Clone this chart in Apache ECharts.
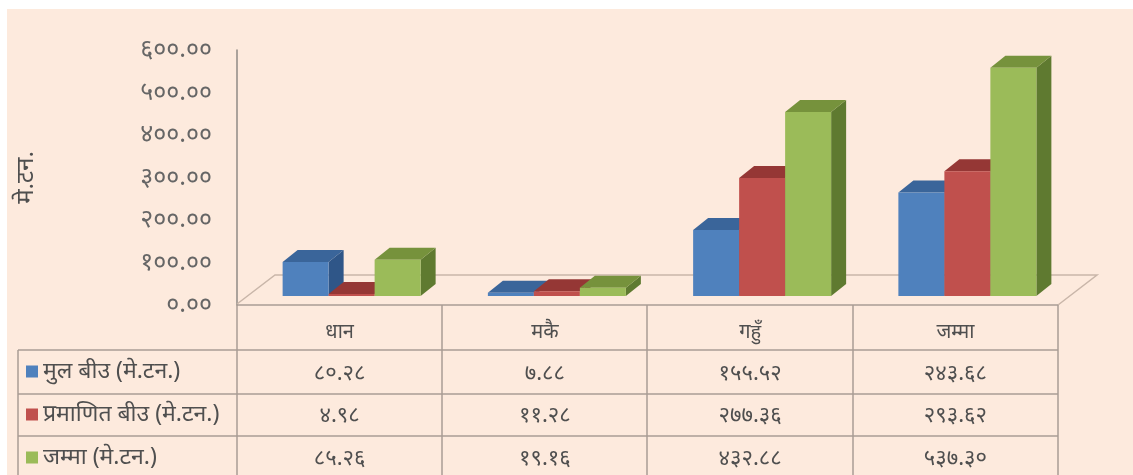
<!DOCTYPE html>
<html><head><meta charset="utf-8">
<style>html,body{margin:0;padding:0;background:#fff;overflow:hidden}#c{width:1133px;height:475px}</style>
<script src="https://cdn.jsdelivr.net/npm/echarts@6/dist/echarts.min.js"></script>
</head><body><div id="c"></div>
<script>
var categories = ['धान','मकै','गहुँ','जम्मा'];
var seriesNames = ['मुल बीउ (मे.टन.)','प्रमाणित बीउ (मे.टन.)','जम्मा (मे.टन.)'];
var mulBeej = [80.28, 7.88, 155.52, 243.68];
var pramanit = [4.98, 11.28, 277.36, 293.62];
var jamma = [85.26, 19.16, 432.88, 537.30];
var faceColors = ['#4F81BD','#C0504D','#9BBB59'];
var topColors = ['#3A659A','#953735','#76923C'];
var sideColors = ['#2F5688','#7F2E2C','#5F7A30'];
var rowCentres = [374,416,459];
var text = '#4f4f4f';
var fontFamily = '"Noto Sans","DejaVu Sans",sans-serif';

var nepali = '०१२३४५६७८९';
function toNepali(s){ return String(s).replace(/[0-9]/g,function(d){return nepali[+d];}); }

var BAR_W = 46, DX = 15, DY = 12, FLOOR = 9, SHIFT = 12;

function bar(idx){
  return function(params, api){
    var i = api.value(0), v = api.value(1);
    var c = api.coord([i, v]), b = api.coord([i, 0]);
    var x = c[0] + SHIFT + (idx-1.5)*BAR_W, x2 = x + BAR_W;
    var top = c[1] - FLOOR, base = b[1] - FLOOR;
    return {type:'group', children:[
      {type:'polygon', shape:{points:[[x2,top],[x2+DX,top-DY],[x2+DX,base-DY],[x2,base]]}, style:{fill:sideColors[idx]}},
      {type:'polygon', shape:{points:[[x,top],[x+DX,top-DY],[x2+DX,top-DY],[x2,top]]}, style:{fill:topColors[idx]}},
      {type:'rect', shape:{x:x,y:top,width:BAR_W,height:base-top}, style:{fill:faceColors[idx]}},
      {type:'text', style:{x:c[0], y:rowCentres[idx], text:toNepali(v.toFixed(2)), fill:text, font:'22px '+fontFamily, align:'center', verticalAlign:'middle'}}
    ]};
  };
}
function mk(idx, data){
  return {name:seriesNames[idx], type:'custom', coordinateSystem:'cartesian2d', renderItem:bar(idx),
    itemStyle:{color:faceColors[idx]}, encode:{x:0,y:1}, z:5+idx, silent:true,
    data:data.map(function(v,i){return [i,v];})};
}

var line = {stroke:'#a89c94', lineWidth:1.5};
var tableX = [18,237,442,647,853,1058];
var gfx = [
  {type:'rect', z:-10, shape:{x:7,y:9,width:1126,height:466}, style:{fill:'#FDEADD'}},
  {type:'polyline', z:1, shape:{points:[[237,304],[275,275],[1097,275],[1058,305]]}, style:{stroke:'#c9b6a9',lineWidth:1.5,fill:'none'}},
  {type:'line', z:1, shape:{x1:237,y1:305,x2:1058,y2:305}, style:line},
  {type:'line', z:1, shape:{x1:18,y1:350,x2:1058,y2:350}, style:line},
  {type:'line', z:1, shape:{x1:18,y1:394,x2:1058,y2:394}, style:line},
  {type:'line', z:1, shape:{x1:18,y1:436,x2:1058,y2:436}, style:line},
  {type:'line', z:1, shape:{x1:18,y1:350,x2:18,y2:475}, style:line}
];
tableX.slice(1).forEach(function(x){
  gfx.push({type:'line', z:1, shape:{x1:x,y1:305,x2:x,y2:475}, style:line});
});

var chart = echarts.init(document.getElementById('c'), null, {renderer:'canvas'});
chart.setOption({
  animation:false,
  grid:{left:237,right:75,top:50,bottom:170},
  legend:{orient:'vertical', left:26, top:360, itemWidth:12, itemHeight:12, itemGap:20, icon:'rect', selectedMode:false,
    data:seriesNames, textStyle:{color:text, fontSize:23, fontFamily:fontFamily}, padding:0},
  xAxis:{type:'category', data:categories, axisTick:{show:false}, axisLine:{show:false},
    axisLabel:{color:text, fontSize:20, margin:17, fontFamily:fontFamily}, boundaryGap:true},
  yAxis:{type:'value', min:0, max:600, interval:100, name:'मे.टन.', nameLocation:'middle', nameGap:199,
    nameTextStyle:{color:text, fontSize:24, fontFamily:fontFamily},
    axisLine:{show:true, lineStyle:{color:'#8f8a85', width:1.5}}, axisTick:{show:false}, splitLine:{show:false},
    axisLabel:{color:'#666', fontSize:25, margin:25, fontFamily:fontFamily,
      formatter:function(v){ return toNepali(v.toFixed(2)); }}},
  graphic:gfx,
  series:[mk(0,mulBeej), mk(1,pramanit), mk(2,jamma)]
});
</script></body></html>
